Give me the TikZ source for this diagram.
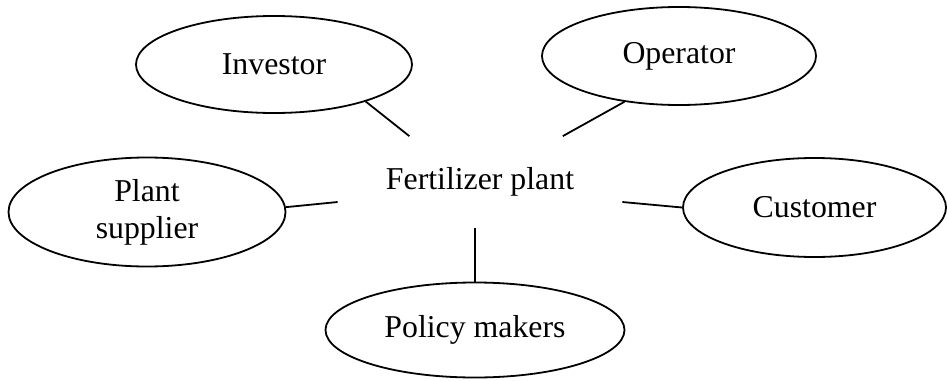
\documentclass[tikz,border=0pt]{standalone}
\usepackage{fontspec}
\setmainfont{Liberation Serif}
\usetikzlibrary{shapes.geometric}

\begin{document}
\begin{tikzpicture}[x=0.5pt,y=-0.5pt,
  every node/.style={font=\fontsize{15.9}{18.5}\selectfont},
  party/.style={ellipse,draw,line width=0.9pt,inner sep=0pt,align=center}]
\useasboundingbox (0,0) rectangle (947,380);
\node[minimum width=142pt,minimum height=45.5pt,inner sep=0pt] (plant) at (480,182) {Fertilizer plant};
\node[party,minimum width=138pt,minimum height=48.5pt] (investor) at (274,64.5) {Investor};
\node[party,minimum width=137pt,minimum height=49pt] (operator) at (679,56) {Operator};
\node[party,minimum width=138.5pt,minimum height=54.5pt] (supplier) at (147,212) {Plant\\supplier};
\node[party,minimum width=131.5pt,minimum height=49.5pt] (customer) at (814.5,207.5) {Customer};
\node[party,minimum width=149.5pt,minimum height=47.5pt] (policy) at (475,330) {Policy makers};
\foreach \a/\b in {investor.-22/plant.147,operator.220/plant.29,supplier.2/plant.188,customer.180/plant.352}
  \draw[line width=0.9pt] (\a) -- (\b);
\draw[line width=0.9pt] (policy.north) -- (policy.north |- plant.south);
\end{tikzpicture}
\end{document}
